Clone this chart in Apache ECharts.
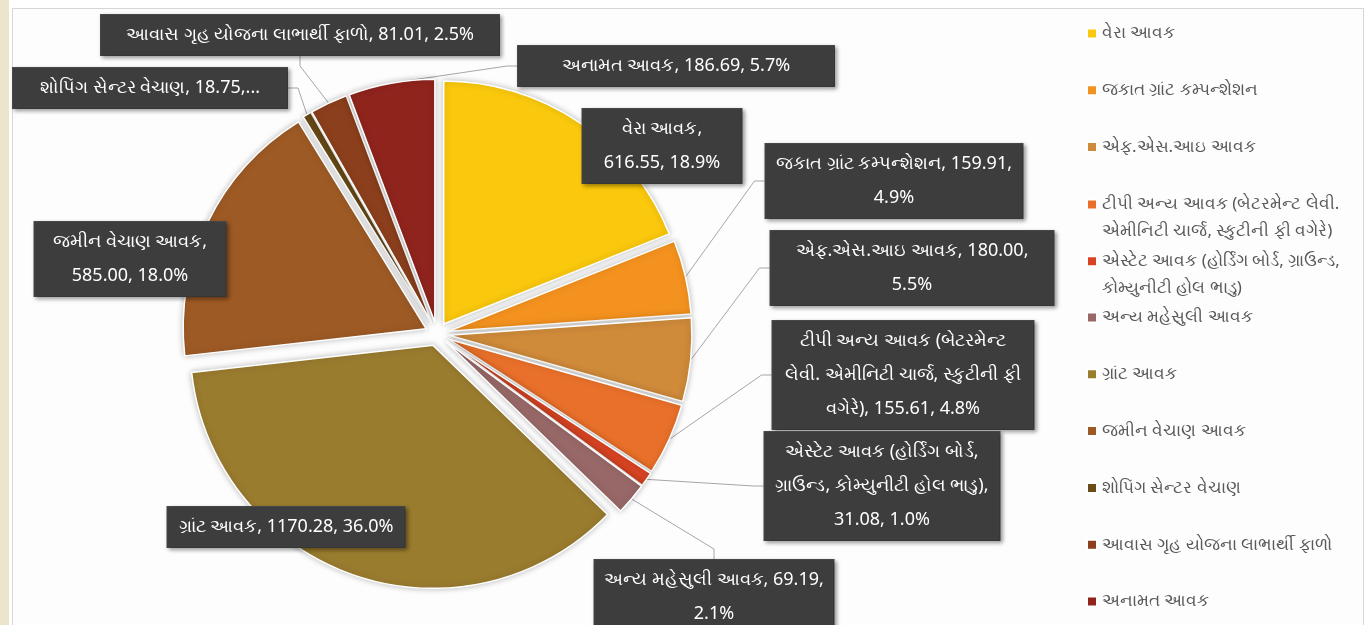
<!DOCTYPE html>
<html>
<head>
<meta charset="utf-8">
<script src="https://cdn.jsdelivr.net/npm/echarts@6/dist/echarts.min.js"></script>
<style>
  html, body { margin: 0; padding: 0; width: 1368px; height: 625px; overflow: hidden; background: #fff; }
  .strip { position: absolute; left: 0; top: 0; width: 9px; height: 625px; background: #ede4cd; }
  .frame { position: absolute; left: 12px; top: 8px; width: 1350px; height: 640px; border: 1px solid #d6d6d6; background: #fdfdfd; }
  #chart { position: absolute; left: 0; top: 0; width: 1368px; height: 625px; }
</style>
</head>
<body>
<div class="strip"></div>
<div class="frame"></div>
<div id="chart"></div>
<script>
// આવકના સ્ત્રોત (રકમ)
const names = [
  'વેરા આવક',
  'જકાત ગ્રાંટ કમ્પન્શેશન',
  'એફ.એસ.આઇ આવક',
  'ટીપી અન્ય આવક (બેટરમેન્ટ લેવી. એમીનિટી ચાર્જ, સ્કુટીની ફી વગેરે)',
  'એસ્ટેટ આવક (હોર્ડિંગ બોર્ડ, ગ્રાઉન્ડ, કોમ્યુનીટી હોલ ભાડુ)',
  'અન્ય મહેસુલી આવક',
  'ગ્રાંટ આવક',
  'જમીન વેચાણ આવક',
  'શોપિંગ સેન્ટર વેચાણ',
  'આવાસ ગૃહ યોજના લાભાર્થી ફાળો',
  'અનામત આવક'
];
const values = [616.55, 159.91, 180.00, 155.61, 31.08, 69.19, 1170.28, 585.00, 18.75, 81.01, 186.69];
const colors = ['#fac80c', '#f4921f', '#cf8a3a', '#e9702a', '#d84423', '#986868',
                '#9a7c2f', '#9d5a25', '#6b4c17', '#8c3f1c', '#8f241d'];

// words per line in labels / legend, label truncation
const labelLines = [[2], [4], [3], [4, 5], [4, 4], [4], [], [3], [], [], []];
const labelCut = [0, 0, 0, 0, 0, 0, 0, 0, 4, 0, 0];
const legendLines = [[], [], [], [5], [5], [], [], [], [], [], []];
// label box centres and widths, leader line on/off
const labelPos = [[662, 146], [894, 181], [912, 268], [903, 375], [882, 486], [714, 597],
                  [286, 527], [130, 259], [150, 88], [300, 35], [676, 66]];
const labelBoxW = [160, 258, 284, 262, 236, 240, 238, 192, 275, 399, 317];
const labelLineOn = [false, true, true, true, true, true, false, false, true, true, true];

function wrapWords(text, counts, cut) {
  const words = text.split(' ');
  if (cut) return words.slice(0, cut).join(' ') + '...';
  const lines = [];
  let k = 0;
  counts.forEach(function (c) {
    lines.push(words.slice(k, k + c).join(' '));
    k += c;
  });
  if (k < words.length) lines.push(words.slice(k).join(' '));
  return lines.join('\n');
}

const font = '"Noto Sans", "Liberation Sans", sans-serif';
const chart = echarts.init(document.getElementById('chart'));

const legends = names.map(function (n, i) {
  const two = legendLines[i].length > 0;
  return {
    data: [n],
    orient: 'vertical',
    left: 1081,
    top: 28 + i * 56.8 - 13,
    selectedMode: false,
    itemWidth: 10,
    itemHeight: two ? 52 : 10,
    icon: two ? 'path://M0,0h0.01v0.01h-0.01zM0,8h10v10h-10zM0,51.99h0.01v0.01h-0.01z' : 'rect',
    formatter: function (name) { return wrapWords(name, legendLines[i], 0); },
    textStyle: { color: '#595959', fontSize: 17, lineHeight: 27, fontFamily: font }
  };
});

const center = [437, 334];
const radius = 243;
const explode = 12;

chart.setOption({
  color: colors,
  legend: legends,
  series: [
    {
      // exploded slices
      type: 'pie',
      center: center,
      radius: radius,
      startAngle: 90,
      clockwise: true,
      selectedMode: 'multiple',
      selectedOffset: explode,
      itemStyle: {
        borderColor: '#fff',
        borderWidth: 1.5,
        shadowBlur: 6,
        shadowColor: 'rgba(0,0,0,0.25)'
      },
      emphasis: { disabled: true },
      label: { show: false },
      labelLine: { show: false },
      data: names.map(function (n, i) {
        return { name: n, value: values[i], selected: true };
      })
    },
    {
      // data labels with leader lines
      type: 'pie',
      center: center,
      radius: radius + explode,
      startAngle: 90,
      clockwise: true,
      percentPrecision: 1,
      silent: true,
      avoidLabelOverlap: false,
      itemStyle: { color: 'rgba(0,0,0,0)' },
      emphasis: { disabled: true },
      label: {
        show: true,
        position: 'outside',
        color: '#fff',
        fontSize: 18,
        fontFamily: font,
        lineHeight: 34,
        overflow: 'none',
        backgroundColor: '#3d3d3d',
        borderColor: '#4a4a4a',
        borderWidth: 1,
        padding: [3, 8],
        shadowBlur: 4,
        shadowOffsetX: 2,
        shadowOffsetY: 2,
        shadowColor: 'rgba(0,0,0,0.35)',
        formatter: function (p) {
          const t = p.name + ', ' + p.value.toFixed(2) + ', ' + p.percent.toFixed(1) + '%';
          return wrapWords(t, labelLines[p.dataIndex], labelCut[p.dataIndex]);
        }
      },
      labelLine: {
        show: true,
        length: 10,
        length2: 10,
        lineStyle: { color: '#a6a6a6', width: 1 }
      },
      labelLayout: function (params) {
        const i = params.dataIndex;
        return {
          x: labelPos[i][0],
          y: labelPos[i][1],
          width: labelBoxW[i] - 17,
          align: 'center',
          verticalAlign: 'middle'
        };
      },
      data: names.map(function (n, i) {
        return { name: n, value: values[i], labelLine: { show: labelLineOn[i] } };
      })
    }
  ]
});
</script>
</body>
</html>
